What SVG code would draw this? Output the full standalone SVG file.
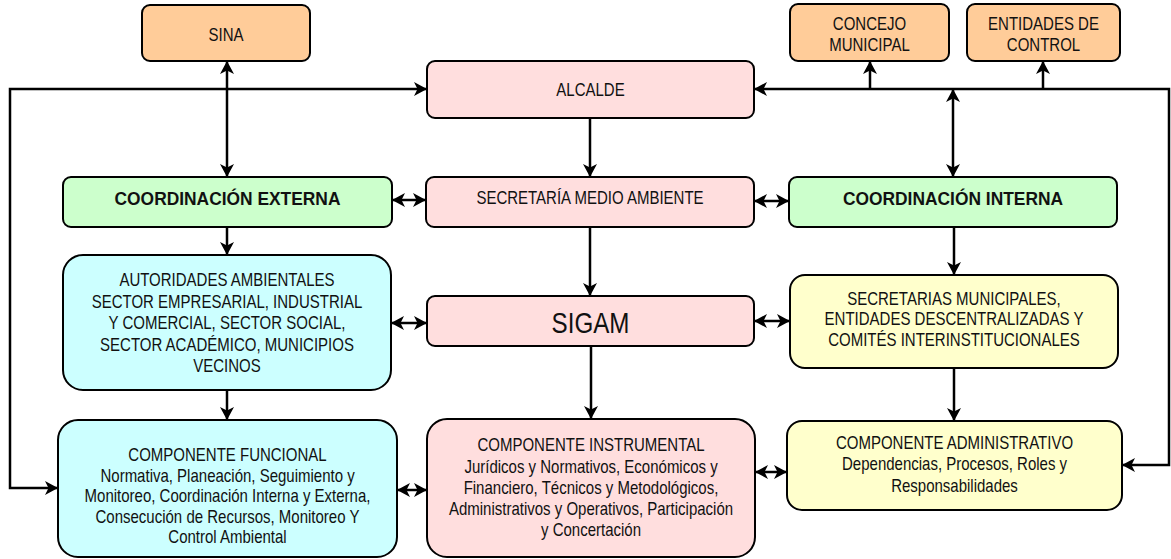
<svg xmlns="http://www.w3.org/2000/svg" width="1171" height="559" viewBox="0 0 1171 559">
<style>
  .box { stroke:#000; stroke-width:2; }
  .orange { fill:#FFCC99; }
  .pink { fill:#FFDEDE; }
  .green { fill:#CCFFCC; }
  .cyan { fill:#CCFFFF; }
  .yellow { fill:#FFFFCC; }
  text { font-family:"Liberation Sans",Arial,sans-serif; font-size:18.3px; fill:#111; text-anchor:middle; transform-box:fill-box; transform-origin:center; transform:scaleX(0.82); }
  .bold { font-weight:bold; font-size:18.5px; transform:scaleX(0.94); }
  .big { font-size:29.5px; }
  .conn { fill:none; stroke:#000; stroke-width:2.5; }
</style>
<defs>
  <marker id="ah" markerUnits="userSpaceOnUse" markerWidth="16" markerHeight="16" refX="13" refY="7" orient="auto-start-reverse" viewBox="0 0 16 16">
    <path d="M0,0 L13,7 L0,14 L3.5,7 Z" fill="#000"/>
  </marker>
</defs>
<rect width="1171" height="559" fill="#fff"/>

<g id="connectors">
  <path class="conn" d="M227,61 V177" marker-start="url(#ah)" marker-end="url(#ah)"/>
  <path class="conn" d="M58,488 H10 V89 H427" marker-start="url(#ah)" marker-end="url(#ah)"/>
  <path class="conn" d="M590,118 V177" marker-end="url(#ah)"/>
  <path class="conn" d="M1122,465 H1169 V89 H754" marker-start="url(#ah)" marker-end="url(#ah)"/>
  <path class="conn" d="M870,89 V61" marker-end="url(#ah)"/>
  <path class="conn" d="M1043,89 V61" marker-end="url(#ah)"/>
  <path class="conn" d="M953,89 V177" marker-start="url(#ah)" marker-end="url(#ah)"/>
  <path class="conn" d="M392,200 H426" marker-start="url(#ah)" marker-end="url(#ah)"/>
  <path class="conn" d="M754,201 H789" marker-start="url(#ah)" marker-end="url(#ah)"/>
  <path class="conn" d="M227,227 V255" marker-end="url(#ah)"/>
  <path class="conn" d="M590,227 V296" marker-end="url(#ah)"/>
  <path class="conn" d="M954,227 V275" marker-end="url(#ah)"/>
  <path class="conn" d="M391,323 H427" marker-start="url(#ah)" marker-end="url(#ah)"/>
  <path class="conn" d="M754,321 H790" marker-start="url(#ah)" marker-end="url(#ah)"/>
  <path class="conn" d="M227,390 V420" marker-end="url(#ah)"/>
  <path class="conn" d="M591,346 V419" marker-end="url(#ah)"/>
  <path class="conn" d="M954,368 V421" marker-end="url(#ah)"/>
  <path class="conn" d="M397,490 H427" marker-start="url(#ah)" marker-end="url(#ah)"/>
  <path class="conn" d="M755,472 H787" marker-start="url(#ah)" marker-end="url(#ah)"/>
</g>

<g id="sina">
  <rect class="box orange" x="142" y="5" width="168" height="56" rx="8"/>
  <text x="226" y="41.5">SINA</text>
</g>
<g id="concejo">
  <rect class="box orange" x="790" y="4" width="159" height="57" rx="8"/>
  <text x="869.5" y="30.5">CONCEJO</text>
  <text x="869.5" y="51">MUNICIPAL</text>
</g>
<g id="entidades">
  <rect class="box orange" x="967" y="4" width="153" height="57" rx="8"/>
  <text x="1043.5" y="30.5">ENTIDADES DE</text>
  <text x="1043.5" y="51">CONTROL</text>
</g>
<g id="alcalde">
  <rect class="box pink" x="427" y="61" width="327" height="57" rx="8"/>
  <text x="590.5" y="96.5">ALCALDE</text>
</g>
<g id="coord-externa">
  <rect class="box green" x="63" y="177" width="329" height="50" rx="8"/>
  <text class="bold" x="227.5" y="205">COORDINACIÓN EXTERNA</text>
</g>
<g id="secretaria">
  <rect class="box pink" x="426" y="177" width="328" height="50" rx="8"/>
  <text x="590" y="204.5">SECRETARÍA MEDIO AMBIENTE</text>
</g>
<g id="coord-interna">
  <rect class="box green" x="789" y="177" width="328" height="50" rx="8"/>
  <text class="bold" x="953" y="205">COORDINACIÓN INTERNA</text>
</g>
<g id="autoridades">
  <rect class="box cyan" x="63" y="255" width="328" height="135" rx="20"/>
  <text x="227" y="286.5">AUTORIDADES AMBIENTALES</text>
  <text x="227" y="308">SECTOR EMPRESARIAL, INDUSTRIAL</text>
  <text x="227" y="329.5">Y COMERCIAL, SECTOR SOCIAL,</text>
  <text x="227" y="351">SECTOR ACADÉMICO, MUNICIPIOS</text>
  <text x="227" y="372.5">VECINOS</text>
</g>
<g id="sigam">
  <rect class="box pink" x="427" y="296" width="327" height="50" rx="8"/>
  <text class="big" x="590.5" y="333">SIGAM</text>
</g>
<g id="secretarias">
  <rect class="box yellow" x="790" y="275" width="328" height="93" rx="15"/>
  <text x="954" y="304.8">SECRETARIAS MUNICIPALES,</text>
  <text x="954" y="325.5">ENTIDADES DESCENTRALIZADAS Y</text>
  <text x="954" y="346.5">COMITÉS INTERINSTITUCIONALES</text>
</g>
<g id="comp-funcional">
  <rect class="box cyan" x="58" y="420" width="339" height="137" rx="20"/>
  <text x="227.5" y="461.5">COMPONENTE FUNCIONAL</text>
  <text x="227.5" y="482">Normativa, Planeación, Seguimiento y</text>
  <text x="227.5" y="502.5">Monitoreo, Coordinación Interna y Externa,</text>
  <text x="227.5" y="523">Consecución de Recursos, Monitoreo Y</text>
  <text x="227.5" y="543">Control Ambiental</text>
</g>
<g id="comp-instrumental">
  <rect class="box pink" x="427" y="419" width="328" height="138" rx="20"/>
  <text x="591" y="451.5">COMPONENTE INSTRUMENTAL</text>
  <text x="591" y="473.5">Jurídicos y Normativos, Económicos y</text>
  <text x="591" y="494.5">Financiero, Técnicos y Metodológicos,</text>
  <text x="591" y="515.5">Administrativos y Operativos, Participación</text>
  <text x="591" y="536.5">y Concertación</text>
</g>
<g id="comp-administrativo">
  <rect class="box yellow" x="787" y="421" width="335" height="89" rx="15"/>
  <text x="954.5" y="448.8">COMPONENTE ADMINISTRATIVO</text>
  <text x="954.5" y="470.5">Dependencias, Procesos, Roles y</text>
  <text x="954.5" y="492.5">Responsabilidades</text>
</g>
</svg>
